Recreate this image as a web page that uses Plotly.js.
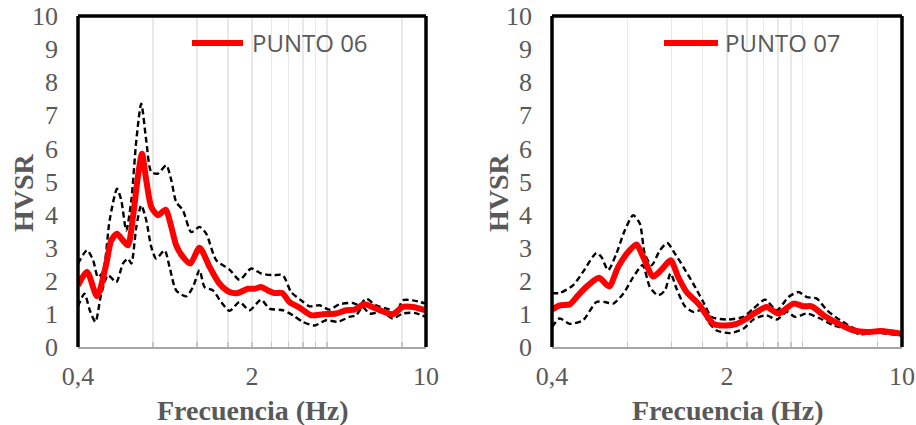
<!DOCTYPE html>
<html>
<head>
<meta charset="utf-8">
<script src="https://cdn.plot.ly/plotly-3.0.1.min.js"></script>
<style>html,body{margin:0;padding:0;background:#fff;}#chart{width:916px;height:425px;}</style>
</head>
<body>
<div id="chart"></div>
<script>
// ---- DATA ----
// PUNTO 06
const p06MeanF = [0.400,0.435,0.477,0.520,0.544,0.574,0.606,0.635,0.665,0.696,0.723,0.752,0.788,0.838,0.899,0.948,0.992,1.056,1.130,1.231,1.351,1.482,1.624,1.754,1.925,2.047,2.176,2.315,2.462,2.643,2.828,3.102,3.456,3.849,4.353,4.775,5.157,5.657,6.300,7.351,8.064,8.845,10.0];
const p06Mean  = [1.86,2.27,1.53,2.52,3.22,3.42,3.22,3.07,3.93,5.14,5.84,5.04,4.23,3.98,4.15,3.63,3.07,2.72,2.52,3.00,2.42,1.91,1.66,1.63,1.76,1.76,1.81,1.71,1.63,1.63,1.36,1.19,0.96,0.99,1.01,1.11,1.13,1.29,1.16,0.99,1.21,1.21,1.11];
const p06UpF   = [0.400,0.435,0.460,0.481,0.504,0.536,0.574,0.597,0.625,0.655,0.686,0.718,0.752,0.788,0.838,0.905,0.948,0.992,1.056,1.140,1.231,1.310,1.437,1.624,1.782,1.985,2.176,2.425,2.659,2.872,3.151,3.403,3.732,4.093,4.490,5.078,5.400,5.744,6.300,7.125,7.579,8.064,8.845,10.0];
const p06Up    = [2.52,2.92,2.62,2.11,2.27,3.83,4.78,4.43,3.52,4.43,6.24,7.35,6.24,5.29,5.24,5.49,5.04,4.38,4.13,3.47,3.63,3.42,2.62,2.34,2.03,2.37,2.22,2.17,2.17,1.66,1.41,1.23,1.26,1.13,1.29,1.33,1.26,1.46,1.26,1.13,1.01,1.41,1.41,1.31];
const p06LoF   = [0.400,0.425,0.446,0.470,0.496,0.528,0.570,0.606,0.635,0.655,0.686,0.718,0.752,0.788,0.825,0.891,0.933,0.992,1.088,1.158,1.231,1.290,1.393,1.504,1.624,1.782,1.955,2.176,2.351,2.659,2.918,3.199,3.564,3.970,4.420,4.925,5.237,5.567,5.924,6.700,7.351,8.064,8.981,10.0];
const p06Lo    = [1.23,1.61,1.11,0.76,1.61,2.17,1.96,2.52,2.67,2.52,3.63,4.28,3.83,3.02,2.67,2.92,2.42,1.71,1.53,1.81,2.32,1.81,1.71,1.36,1.09,1.36,1.11,1.43,1.16,1.11,0.96,0.76,0.65,0.81,0.76,0.91,0.96,1.21,1.01,1.06,0.86,1.01,1.03,0.91];
// PUNTO 07
const p07MeanF = [0.400,0.429,0.471,0.508,0.557,0.617,0.676,0.735,0.806,0.870,0.925,1.014,1.096,1.190,1.277,1.379,1.536,1.658,1.764,1.994,2.186,2.397,2.629,2.882,3.210,3.686,4.041,4.364,4.859,5.494,6.405,7.241,8.190,10.0];
const p07Mean  = [1.13,1.26,1.29,1.56,1.86,2.09,1.83,2.42,2.87,3.10,2.72,2.13,2.34,2.62,2.11,1.66,1.31,0.96,0.70,0.65,0.70,0.86,1.06,1.21,1.01,1.31,1.23,1.23,0.96,0.73,0.50,0.45,0.48,0.40];
const p07UpF   = [0.400,0.429,0.485,0.532,0.602,0.630,0.670,0.723,0.781,0.844,0.897,0.939,0.999,1.079,1.154,1.239,1.338,1.467,1.608,1.737,1.994,2.324,2.549,2.838,3.161,3.520,3.859,4.168,4.570,5.013,5.664,6.504,7.468,8.317,10.0];
const p07Up    = [1.63,1.63,1.86,2.27,2.84,2.72,2.32,2.82,3.52,3.98,3.73,2.82,2.47,2.92,3.14,2.82,2.42,1.91,1.36,0.91,0.83,0.91,1.16,1.43,1.11,1.51,1.66,1.51,1.46,1.11,0.81,0.55,0.48,0.52,0.42];
const p07LoF   = [0.400,0.429,0.471,0.532,0.602,0.650,0.702,0.770,0.844,0.920,0.984,1.062,1.130,1.190,1.258,1.358,1.467,1.584,1.684,1.819,2.056,2.324,2.549,2.864,3.161,3.466,3.743,4.168,4.712,5.328,6.023,6.811,7.701,8.709,10.0];
const p07Lo    = [0.60,0.86,0.70,0.81,1.36,1.36,1.31,1.61,2.11,2.47,1.81,1.56,1.71,2.22,1.76,1.23,1.06,1.11,0.76,0.50,0.42,0.55,0.83,0.96,0.83,1.06,0.91,1.01,0.86,0.65,0.55,0.38,0.45,0.40,0.35];

const seriesNames = ['PUNTO 06', 'PUNTO 07'];
const xTickVals = [0.4, 0.8, 1.2, 1.6, 2, 2.4, 2.8, 3.2, 3.6, 4, 8, 10];
const xTickText = ['0,4', '', '', '', '2', '', '', '', '', '', '', '10'];
const yTickVals = [0,1,2,3,4,5,6,7,8,9,10];
const xTitle = 'Frecuencia (Hz)';
const yTitle = 'HVSR';

// ---- STYLE ----
const W = 916, H = 425;
const GRAY = '#595959';
const serif = 'Liberation Serif, Times New Roman, serif';
const red = {color: '#ff0000', width: 6};
const dash = {color: '#000000', width: 2.4, dash: '6px,3.5px'};
const sp = {shape: 'spline', smoothing: 0.7};

function tr(x, y, ax, line) {
  return {x: x, y: y, xaxis: ax[0], yaxis: ax[1], type: 'scatter', mode: 'lines',
          line: Object.assign({}, line, sp), hoverinfo: 'skip', showlegend: false};
}
const A1 = ['x', 'y'], A2 = ['x2', 'y2'];
const data = [
  tr(p06UpF, p06Up, A1, dash), tr(p06LoF, p06Lo, A1, dash), tr(p06MeanF, p06Mean, A1, red),
  tr(p07UpF, p07Up, A2, dash), tr(p07LoF, p07Lo, A2, dash), tr(p07MeanF, p07Mean, A2, red)
];

function xax(dom, anchor) {
  return {domain: dom, anchor: anchor, type: 'log', range: [Math.log10(0.4), 1],
    tickmode: 'array', tickvals: xTickVals, ticktext: xTickText,
    showgrid: true, gridcolor: '#e9e9e9', gridwidth: 1.5,
    ticks: 'inside', ticklen: 5, tickcolor: '#c4c4c4', tickwidth: 1.5,
    showline: true, linecolor: '#a6a6a6', linewidth: 2, zeroline: false,
    tickfont: {family: serif, size: 26, color: GRAY}, ticklabelstandoff: 5,
    automargin: false, fixedrange: true};
}
function yax(anchor) {
  return {domain: [1 - 347 / H, 1 - 16 / H], anchor: anchor, range: [0, 10],
    tickmode: 'array', tickvals: yTickVals, showgrid: false, zeroline: false, showline: false,
    ticks: '', tickfont: {family: serif, size: 26, color: GRAY}, ticklabelstandoff: 19,
    automargin: false, fixedrange: true};
}

const panels = [
  {xa: 'x', ya: 'y', left: 78, right: 426, legLine: [192, 243], legText: 250, ytitleX: 23},
  {xa: 'x2', ya: 'y2', left: 552, right: 902, legLine: [664, 718], legText: 723, ytitleX: 498}
];

const shapes = [], annotations = [];
panels.forEach((p, i) => {
  const xr = p.xa + ' domain', yr = p.ya + ' domain';
  const bl = {color: '#000000', width: 3.5};
  shapes.push({type: 'line', xref: xr, yref: yr, x0: 0, x1: 0, y0: 0, y1: 1, line: bl});
  shapes.push({type: 'line', xref: xr, yref: yr, x0: 1, x1: 1, y0: 0, y1: 1, line: bl});
  shapes.push({type: 'line', xref: xr, yref: yr, x0: 0, x1: 1, y0: 1, y1: 1, line: bl});
  // legend sample
  shapes.push({type: 'line', xref: 'paper', yref: 'paper', x0: p.legLine[0] / W, x1: p.legLine[1] / W,
               y0: 1 - 43 / H, y1: 1 - 43 / H, line: {color: '#ff0000', width: 6}});
  annotations.push({xref: 'paper', yref: 'paper', x: p.legText / W, y: 1 - 42 / H, xanchor: 'left', yanchor: 'middle',
    text: seriesNames[i], showarrow: false, font: {family: 'Open Sans, Liberation Sans, sans-serif', size: 24, color: GRAY}});
  annotations.push({xref: 'paper', yref: 'paper', x: ((p.left + p.right) / 2 + 1) / W, y: 1 - 410 / H,
    xanchor: 'center', yanchor: 'middle', text: '<b>' + xTitle + '</b>', showarrow: false,
    font: {family: serif, size: 28, color: GRAY}});
  annotations.push({xref: 'paper', yref: 'paper', x: p.ytitleX / W, y: 1 - 193 / H,
    xanchor: 'center', yanchor: 'middle', textangle: -90, text: '<b>' + yTitle + '</b>', showarrow: false,
    font: {family: serif, size: 28, color: GRAY}});
});

const layout = {
  width: W, height: H, margin: {l: 0, r: 0, t: 0, b: 0},
  paper_bgcolor: '#ffffff', plot_bgcolor: '#ffffff', showlegend: false,
  xaxis: xax([78 / W, 426 / W], 'y'), yaxis: yax('x'),
  xaxis2: xax([552 / W, 902 / W], 'y2'), yaxis2: yax('x2'),
  shapes: shapes, annotations: annotations
};

Plotly.newPlot('chart', data, layout, {staticPlot: true, displayModeBar: false});
</script>
</body>
</html>
